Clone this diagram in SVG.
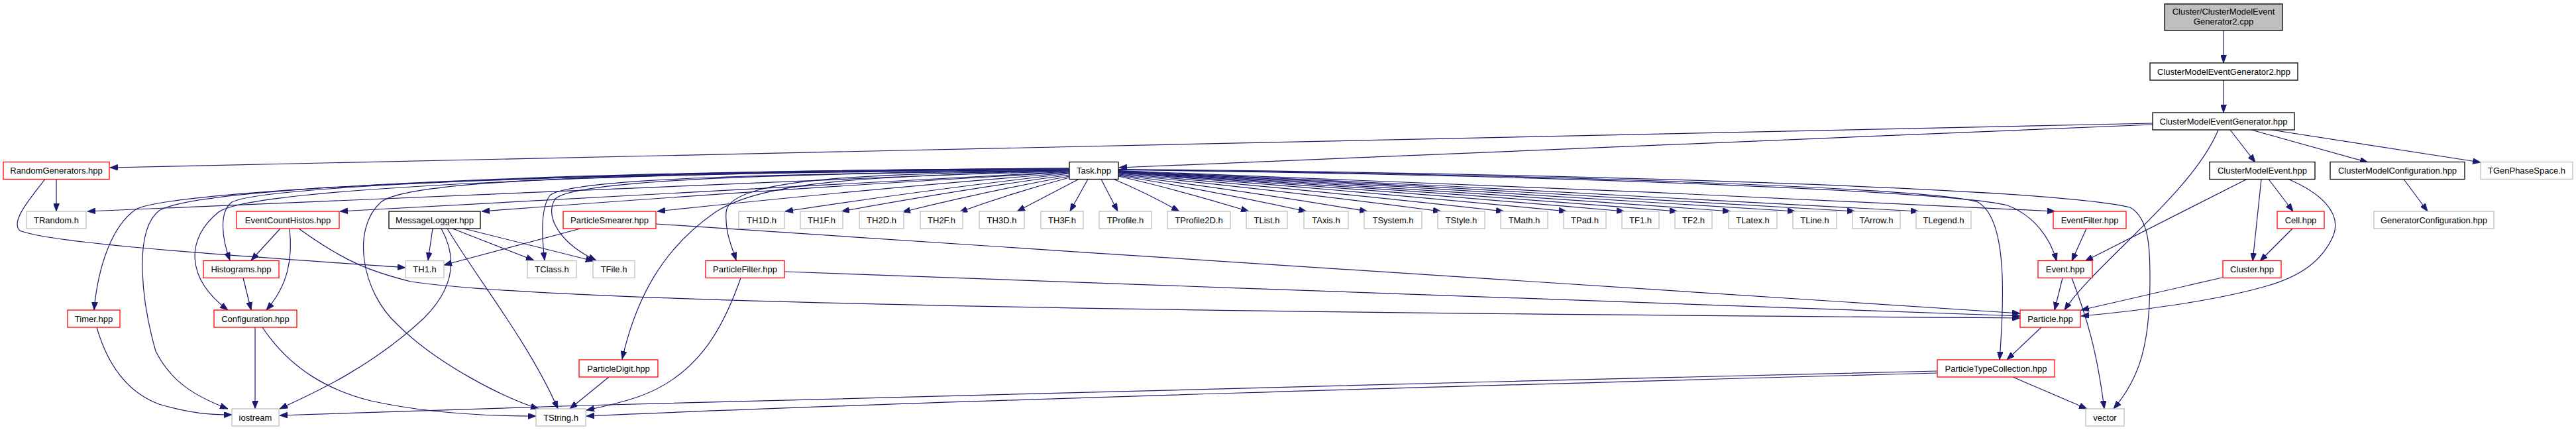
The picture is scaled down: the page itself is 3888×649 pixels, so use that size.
<svg xmlns="http://www.w3.org/2000/svg" width="3888" height="649" viewBox="0 0 3888 649">
<style>
.n rect{fill:#fff;stroke:#000;stroke-width:1.3}
.r rect{fill:#fff;stroke:#ff0000;stroke-width:1.3}
.g rect{fill:#fff;stroke:#bfbfbf;stroke-width:1.3}
.root rect{fill:#bfbfbf;stroke:#000;stroke-width:1.3}
text{font-family:"Liberation Sans",Arial,Helvetica,sans-serif;font-size:13px;fill:#000;text-anchor:middle}
#edges path{fill:none;stroke:#191970;stroke-width:1.2;marker-end:url(#arr)}
</style>
<defs>
<marker id="arr" markerUnits="userSpaceOnUse" markerWidth="12" markerHeight="9" refX="12" refY="4.5" orient="auto">
<path d="M0,0 L12,4.5 L0,9 z" fill="#191970" stroke="#191970" stroke-width="0.8"/>
</marker>
</defs>
<rect width="3888" height="649" fill="#fff"/>
<g id="edges">
<path d="M3356,46 L3356,95"/>
<path d="M3356,121 L3356,170"/>
<path d="M3366,196 L3404,245"/>
<path d="M3398,196 L3574,245"/>
<path d="M3428,196 L3744,245"/>
<path d="M3348,196 C3310,290 3160,400 3116,468"/>
<path d="M3249,186 L166,253"/>
<path d="M3249,188 L1689,253"/>
<path d="M3391,270.5 L3147,394"/>
<path d="M3413,270.5 L3400,394"/>
<path d="M3424,270.5 L3461,319"/>
<path d="M3454,270.5 C3500,290 3535,320 3522,355 C3505,395 3470,418 3420,432 C3340,455 3220,470 3141,477"/>
<path d="M3460,345 L3411,394"/>
<path d="M3354,419 L3141,468"/>
<path d="M3628,270.5 L3664,319"/>
<path d="M3149,345 L3127,394"/>
<path d="M3113,419.5 L3101,468"/>
<path d="M3127,419.5 C3150,480 3165,530 3176,617"/>
<path d="M3081,494 L3029,543"/>
<path d="M3038,569 L3150,617"/>
<path d="M1680,270 C1713,283.7 1747,300.4 1780,319"/>
<path d="M1688,266 C1754,280.8 1819,298.9 1885,319"/>
<path d="M1688,265 C1783,280.1 1877,298.5 1972,319"/>
<path d="M1688,264 C1813,279.4 1939,298.1 2064,319"/>
<path d="M1688,263 C1850,278.7 2013,297.7 2175,319"/>
<path d="M1688,262 C1882,278 2076,297.3 2270,319"/>
<path d="M1688,261 C1914,277.2 2139,297 2365,319"/>
<path d="M1688,260.5 C1943,276.9 2197,296.8 2452,319"/>
<path d="M1688,260 C1969,276.5 2251,296.6 2532,319"/>
<path d="M1688,259.5 C1996,276.2 2304,296.4 2612,319"/>
<path d="M1688,259 C2029,275.8 2369,296.2 2710,319"/>
<path d="M1688,258.5 C2059,275.4 2429,296 2800,319"/>
<path d="M1688,258 C2091,275.1 2493,295.8 2896,319"/>
<path d="M1688,257.5 C2159,274.7 2631,295.6 3102,319"/>
<path d="M1688,256.5 C2400,265 2950,290 3030,310 C3070,325 3095,360 3104,394"/>
<path d="M1688,256 C2400,264 2920,285 2985,305 C3030,330 3025,450 3018,543"/>
<path d="M1688,255.5 C2400,262 3100,285 3215,313 C3245,330 3245,380 3245,420 C3245,520 3230,570 3190,617"/>
<path d="M1662,270.5 L1687,319"/>
<path d="M1642,270.5 L1615,319"/>
<path d="M1628,270.5 L1535,319"/>
<path d="M1614,268 C1559,282.6 1503,300.2 1448,320"/>
<path d="M1614,266 C1530,281.1 1446,299.5 1362,320"/>
<path d="M1614,264 C1499,279.4 1385,298.1 1270,319"/>
<path d="M1614,262 C1471,278 1328,297.3 1185,319"/>
<path d="M1614,261 C1407,277.2 1199,297 992,319"/>
<path d="M1614,260 C1318,276.5 1023,296.6 727,319"/>
<path d="M1614,259 C1247,275.8 880,296.2 513,319"/>
<path d="M1614,256 C1120,273.6 626,295.1 132,319"/>
<path d="M1614,258 C1350,262 1100,265 1096,320 C1094,350 1104,370 1111,393"/>
<path d="M1614,259 C1300,265 1150,275 1080,320 C1000,375 960,450 939,542"/>
<path d="M1614,257 C1200,262 870,270 838,300 C820,330 850,370 900,393"/>
<path d="M1614,257 C1200,262 860,268 830,295 C815,315 818,360 822,393"/>
<path d="M1614,256 C1000,262 620,268 575,305 C530,345 545,440 600,490 C660,550 760,600 813,617"/>
<path d="M1614,255 C900,260 400,280 350,305 C330,320 335,360 347,393"/>
<path d="M1614,255 C900,260 380,285 330,320 C280,360 280,420 344,468"/>
<path d="M1614,254 C900,258 300,280 240,318 C200,350 215,460 235,530 C260,580 300,600 344,617"/>
<path d="M1614,254 C900,258 260,285 205,316 C170,340 148,400 142,468"/>
<path d="M85,270.5 L85,319"/>
<path d="M68,270.5 C45,300 15,335 30,348 C80,370 450,392 612,404"/>
<path d="M653,345 L646,393"/>
<path d="M683,345 L806,393"/>
<path d="M700,345 L896,394"/>
<path d="M666,345 C680,370 700,420 640,480 C560,555 470,595 422,617"/>
<path d="M675,345 C720,420 800,520 842,617"/>
<path d="M876,345 L670,400"/>
<path d="M990,338 C1700,385 2600,445 3049,473"/>
<path d="M1184,410 C1800,432 2600,462 3049,477"/>
<path d="M451,345 C520,395 560,410 620,425 C800,452 1500,470 3049,480"/>
<path d="M423,345 L379,393"/>
<path d="M437,345 C442,390 435,430 402,468"/>
<path d="M367,419.5 L379,468"/>
<path d="M385,494 L385,617"/>
<path d="M396,494 C440,560 500,590 560,605 C650,625 740,628 809,628"/>
<path d="M146,494 C165,560 200,595 240,610 C290,625 320,626 350,626"/>
<path d="M919,569 L860,617"/>
<path d="M1118,419.5 C1090,500 1050,570 960,600 C930,610 905,615 885,619"/>
<path d="M2924,560 C2200,578 1200,600 880,612 C700,618 550,622 422,627"/>
<path d="M2924,563 C2300,580 1400,605 885,628"/>
</g>
<g id="n_root" class="root"><rect x="3267" y="6" width="178" height="40"/><text x="3356" y="21.7">Cluster/ClusterModelEvent</text><text x="3356" y="36.7">Generator2.cpp</text></g>
<g id="n_cmeg2" class="n"><rect x="3245" y="95" width="223" height="26"/><text x="3356.5" y="112.7">ClusterModelEventGenerator2.hpp</text></g>
<g id="n_cmeg" class="n"><rect x="3249" y="170" width="214" height="26"/><text x="3356" y="187.7">ClusterModelEventGenerator.hpp</text></g>
<g id="n_randomgenerators" class="r"><rect x="5" y="244.5" width="160" height="26"/><text x="85" y="262.2">RandomGenerators.hpp</text></g>
<g id="n_task" class="n"><rect x="1614" y="244.5" width="74" height="26"/><text x="1651" y="262.2">Task.hpp</text></g>
<g id="n_clustermodelevent" class="n"><rect x="3335" y="244.5" width="159" height="26"/><text x="3414.5" y="262.2">ClusterModelEvent.hpp</text></g>
<g id="n_clustermodelconfiguration" class="n"><rect x="3517" y="244.5" width="203" height="26"/><text x="3618.5" y="262.2">ClusterModelConfiguration.hpp</text></g>
<g id="n_tgenphasespace" class="g"><rect x="3744" y="244.5" width="139" height="26"/><text x="3813.5" y="262.2">TGenPhaseSpace.h</text></g>
<g id="n_trandom" class="g"><rect x="40" y="319" width="90" height="26"/><text x="85" y="336.7">TRandom.h</text></g>
<g id="n_eventcounthistos" class="r"><rect x="357" y="319" width="155" height="26"/><text x="434.5" y="336.7">EventCountHistos.hpp</text></g>
<g id="n_messagelogger" class="n"><rect x="587" y="319" width="138" height="26"/><text x="656" y="336.7">MessageLogger.hpp</text></g>
<g id="n_particlesmearer" class="r"><rect x="850" y="319" width="140" height="26"/><text x="920" y="336.7">ParticleSmearer.hpp</text></g>
<g id="n_th1d" class="g"><rect x="1115" y="319" width="69" height="26"/><text x="1149.5" y="336.7">TH1D.h</text></g>
<g id="n_th1f" class="g"><rect x="1208" y="319" width="64" height="26"/><text x="1240" y="336.7">TH1F.h</text></g>
<g id="n_th2d" class="g"><rect x="1297" y="319" width="67" height="26"/><text x="1330.5" y="336.7">TH2D.h</text></g>
<g id="n_th2f" class="g"><rect x="1389" y="319" width="64" height="26"/><text x="1421" y="336.7">TH2F.h</text></g>
<g id="n_th3d" class="g"><rect x="1478" y="319" width="68" height="26"/><text x="1512" y="336.7">TH3D.h</text></g>
<g id="n_th3f" class="g"><rect x="1571" y="319" width="64" height="26"/><text x="1603" y="336.7">TH3F.h</text></g>
<g id="n_tprofile" class="g"><rect x="1659" y="319" width="79" height="26"/><text x="1698.5" y="336.7">TProfile.h</text></g>
<g id="n_tprofile2d" class="g"><rect x="1762" y="319" width="95" height="26"/><text x="1809.5" y="336.7">TProfile2D.h</text></g>
<g id="n_tlist" class="g"><rect x="1881" y="319" width="62" height="26"/><text x="1912" y="336.7">TList.h</text></g>
<g id="n_taxis" class="g"><rect x="1968" y="319" width="67" height="26"/><text x="2001.5" y="336.7">TAxis.h</text></g>
<g id="n_tsystem" class="g"><rect x="2059" y="319" width="87" height="26"/><text x="2102.5" y="336.7">TSystem.h</text></g>
<g id="n_tstyle" class="g"><rect x="2170" y="319" width="71" height="26"/><text x="2205.5" y="336.7">TStyle.h</text></g>
<g id="n_tmath" class="g"><rect x="2265" y="319" width="71" height="26"/><text x="2300.5" y="336.7">TMath.h</text></g>
<g id="n_tpad" class="g"><rect x="2360" y="319" width="64" height="26"/><text x="2392" y="336.7">TPad.h</text></g>
<g id="n_tf1" class="g"><rect x="2448" y="319" width="56" height="26"/><text x="2476" y="336.7">TF1.h</text></g>
<g id="n_tf2" class="g"><rect x="2528" y="319" width="56" height="26"/><text x="2556" y="336.7">TF2.h</text></g>
<g id="n_tlatex" class="g"><rect x="2609" y="319" width="73" height="26"/><text x="2645.5" y="336.7">TLatex.h</text></g>
<g id="n_tline" class="g"><rect x="2706" y="319" width="66" height="26"/><text x="2739" y="336.7">TLine.h</text></g>
<g id="n_tarrow" class="g"><rect x="2796" y="319" width="72" height="26"/><text x="2832" y="336.7">TArrow.h</text></g>
<g id="n_tlegend" class="g"><rect x="2892" y="319" width="83" height="26"/><text x="2933.5" y="336.7">TLegend.h</text></g>
<g id="n_eventfilter" class="r"><rect x="3099" y="319" width="110" height="26"/><text x="3154" y="336.7">EventFilter.hpp</text></g>
<g id="n_cell" class="r"><rect x="3437" y="319" width="71" height="26"/><text x="3472.5" y="336.7">Cell.hpp</text></g>
<g id="n_generatorconfiguration" class="g"><rect x="3583" y="319" width="181" height="26"/><text x="3673.5" y="336.7">GeneratorConfiguration.hpp</text></g>
<g id="n_histograms" class="r"><rect x="307" y="393.5" width="114" height="26"/><text x="364" y="411.2">Histograms.hpp</text></g>
<g id="n_th1" class="g"><rect x="612" y="393.5" width="58" height="26"/><text x="641" y="411.2">TH1.h</text></g>
<g id="n_tclass" class="g"><rect x="796" y="393.5" width="74" height="26"/><text x="833" y="411.2">TClass.h</text></g>
<g id="n_tfile" class="g"><rect x="895" y="393.5" width="63" height="26"/><text x="926.5" y="411.2">TFile.h</text></g>
<g id="n_particlefilter" class="r"><rect x="1065" y="393.5" width="119" height="26"/><text x="1124.5" y="411.2">ParticleFilter.hpp</text></g>
<g id="n_event" class="r"><rect x="3076" y="393.5" width="82" height="26"/><text x="3117" y="411.2">Event.hpp</text></g>
<g id="n_cluster" class="r"><rect x="3355" y="393.5" width="88" height="26"/><text x="3399" y="411.2">Cluster.hpp</text></g>
<g id="n_timer" class="r"><rect x="102" y="468" width="79" height="26"/><text x="141.5" y="485.7">Timer.hpp</text></g>
<g id="n_configuration" class="r"><rect x="323" y="468" width="125" height="26"/><text x="385.5" y="485.7">Configuration.hpp</text></g>
<g id="n_particle" class="r"><rect x="3049" y="468" width="91" height="26"/><text x="3094.5" y="485.7">Particle.hpp</text></g>
<g id="n_particledigit" class="r"><rect x="874" y="543" width="119" height="26"/><text x="933.5" y="560.7">ParticleDigit.hpp</text></g>
<g id="n_particletypecollection" class="r"><rect x="2924" y="543" width="177" height="26"/><text x="3012.5" y="560.7">ParticleTypeCollection.hpp</text></g>
<g id="n_iostream" class="g"><rect x="350" y="617" width="71" height="26"/><text x="385.5" y="634.7">iostream</text></g>
<g id="n_tstring" class="g"><rect x="809" y="617" width="75" height="26"/><text x="846.5" y="634.7">TString.h</text></g>
<g id="n_vector" class="g"><rect x="3148" y="617" width="58" height="26"/><text x="3177" y="634.7">vector</text></g>
</svg>
